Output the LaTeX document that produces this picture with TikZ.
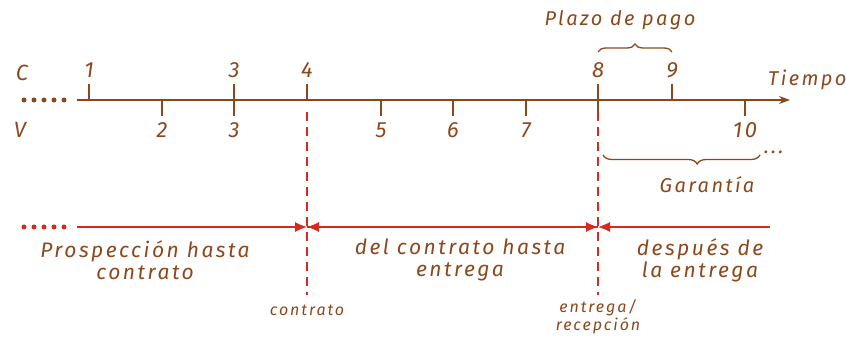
\documentclass[tikz,border=0pt]{standalone}
\usepackage{fontspec}
\setmainfont{Fira Sans}[LetterSpace=12]
\usetikzlibrary{arrows.meta,decorations.pathreplacing}
\definecolor{ink}{RGB}{140,72,28}
\definecolor{redink}{RGB}{214,42,30}
\tikzset{
  hand/.style={font=\fontsize{20}{20}\selectfont\itshape, text=ink, inner sep=0pt},
  num/.style={font=\fontsize{22}{22}\selectfont\itshape, text=ink, inner sep=0pt},
  small/.style={font=\fontsize{16}{18}\selectfont\itshape, text=ink, inner sep=0pt, align=center},
  phase/.style={font=\fontsize{21}{22}\selectfont\itshape, text=ink, inner sep=0pt, align=center},
  axisline/.style={draw=ink, line width=1.3pt},
  tick/.style={draw=ink, line width=1.3pt},
  dashv/.style={draw=redink, line width=1.3pt, dash pattern=on 9pt off 6pt},
  redline/.style={draw=redink, line width=1.1pt},
  tip/.style={-{Latex[length=12pt,width=10pt]}},
  dotsb/.style={draw=ink, line width=5pt, line cap=round, dash pattern=on 0pt off 10pt},
  dotsr/.style={draw=redink, line width=5pt, line cap=round, dash pattern=on 0pt off 10pt},
  brace/.style={draw=ink, line width=1.3pt, decorate},
}
\begin{document}
\begin{tikzpicture}[x=1pt,y=-1pt]
\useasboundingbox (0,0) rectangle (846,344);
% axis
\coordinate (a0) at (77,100);
\coordinate (a1) at (790,100);
\draw[axisline,-{Stealth[length=11pt,width=8pt]}] (a0) -- (a1);
\draw[dotsb] (24,100) -- (66,100);
\node[hand,anchor=west] (tiempo) at (768,80) {Tiempo};
\node[num] (C) at (22,73) {C};
\node[num] (V) at (20,130) {V};
% upper ticks
\foreach \x/\l [count=\i] in {89/1,234/3,307/4,598/8,672/9}{
  \draw[tick] (\x,84) -- (\x,100);
  \node[num] (c\i) at (\x,70) {\l};
}
% lower ticks
\foreach \x/\l [count=\i] in {162/2,234/3,381/5,453/6,526/7,598/{},745/10}{
  \draw[tick] (\x,100) -- (\x,116);
  \node[num] (v\i) at (\x,130) {\l};
}
% plazo de pago
\draw[brace,decoration={brace,amplitude=8pt}] (598,52) -- (672,52);
\node[hand] (plazo) at (620,20) {Plazo de pago};
% garantia
\draw[brace,decoration={brace,mirror,amplitude=9pt,aspect=0.6}] (603,155) -- (760,155);
\node[hand,anchor=west] (gdots) at (764,152) {...};
\node[hand] (garantia) at (707,185) {Garantía};
% red verticals
\coordinate (k1t) at (307,112);
\coordinate (k1b) at (307,295);
\coordinate (k2t) at (598,112);
\coordinate (k2b) at (598,295);
\draw[dashv] (k1t) -- (k1b);
\draw[dashv] (k2t) -- (k2b);
% red phase line
\coordinate (r0) at (77,227);
\coordinate (r1) at (307,227);
\coordinate (r2) at (598,227);
\coordinate (r3) at (770,227);
\draw[dotsr] (24,227) -- (66,227);
\draw[redline,tip] (r0) -- (r1);
\draw[redline,tip] (r2) -- (r1);
\draw[redline,tip] (r1) -- (r2);
\draw[redline,tip] (r3) -- (r2);
% phase texts
\node[phase] (p1) at (145,260) {Prospección hasta\\contrato};
\node[phase] (p2) at (460,260) {del contrato hasta\\entrega};
\node[phase] (p3) at (700,260) {después de\\la entrega};
\node[small] (lc) at (307,310) {contrato};
\node[small] (le) at (598,317) {entrega/\\recepción};
\end{tikzpicture}
\end{document}
